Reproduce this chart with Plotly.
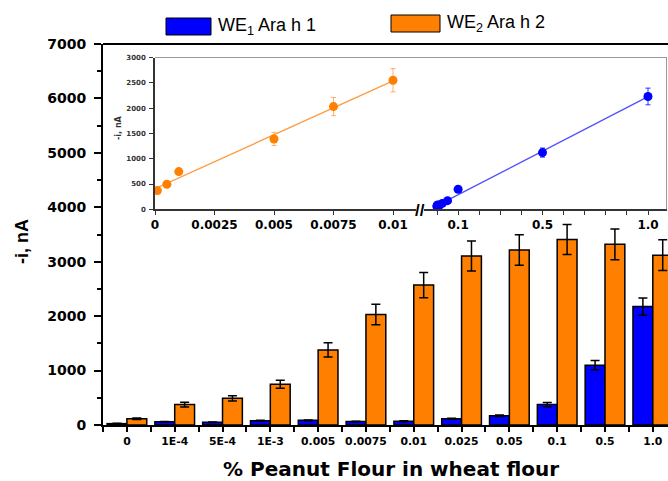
import numpy as np
import plotly.graph_objects as go

# ---------------- data ----------------
categories = ["0", "1E-4", "5E-4", "1E-3", "0.005", "0.0075", "0.01",
              "0.025", "0.05", "0.1", "0.5", "1.0"]
we1 = [25, 60, 50, 80, 85, 65, 70, 115, 170, 375, 1100, 2175]
we1_err = [6, 6, 6, 8, 8, 6, 8, 10, 15, 40, 85, 160]
we2 = [115, 375, 490, 750, 1380, 2030, 2570, 3105, 3215, 3410, 3320, 3120]
we2_err = [12, 43, 49, 73, 129, 187, 230, 276, 279, 276, 282, 282]

inset_conc_we2 = [0.0001, 0.0005, 0.001, 0.005, 0.0075, 0.01]
inset_we2 = [370, 495, 745, 1390, 2030, 2550]
inset_we2_err = [15, 25, 40, 130, 180, 230]

inset_conc_we1 = [0.0001, 0.0005, 0.001, 0.005, 0.0075, 0.01, 0.025, 0.05, 0.1, 0.5, 1.0]
inset_we1 = [61, 49, 80, 86, 67, 73, 116, 171, 396, 1121, 2230]
inset_we1_err = [6, 6, 6, 8, 6, 8, 10, 12, 30, 90, 165]

inset_low_ticks = [0, 0.0025, 0.005, 0.0075, 0.01]
inset_low_labels = ["0", "0.0025", "0.005", "0.0075", "0.01"]
inset_high_ticks = [0.1, 0.5, 1.0]
inset_high_labels = ["0.1", "0.5", "1.0"]

BLUE = "#0000ff"
ORANGE = "#ff8000"

# ---------------- geometry (picture pixels -> paper) ----------------
FIG_W, FIG_H = 668, 481
L, T, R, B = 103, 44, 668, 425    # plot-area edges in picture pixels
W, H = R - L, B - T


def px(x):
    return (x - L) / W


def py(y):
    return (B - y) / H


idx = list(range(len(categories)))

fig = go.Figure()

fig.add_trace(go.Bar(
    x=idx, y=we1, name="WE1 Ara h 1",
    marker=dict(color=BLUE, line=dict(color="black", width=1.5)),
    error_y=dict(type="data", array=we1_err, color="black", thickness=1.5, width=4.5),
))
fig.add_trace(go.Bar(
    x=idx, y=we2, name="WE2 Ara h 2",
    marker=dict(color=ORANGE, line=dict(color="black", width=1.5)),
    error_y=dict(type="data", array=we2_err, color="black", thickness=1.5, width=4.5),
))

# inset linear fits
c2 = np.polyfit(inset_conc_we2, inset_we2, 1)
c1 = np.polyfit(inset_conc_we1, inset_we1, 1)
fx2 = np.array([0, max(inset_conc_we2)])
fx1 = np.array([0, max(inset_conc_we1)])

fig.add_trace(go.Scatter(
    x=fx2, y=np.polyval(c2, fx2), mode="lines", xaxis="x2", yaxis="y2",
    line=dict(color="#ff9a40", width=1.3), showlegend=False, hoverinfo="skip"))
fig.add_trace(go.Scatter(
    x=inset_conc_we2, y=inset_we2, mode="markers", xaxis="x2", yaxis="y2",
    marker=dict(color=ORANGE, size=9),
    error_y=dict(type="data", array=inset_we2_err, color="rgba(255,150,60,0.75)",
                 thickness=1, width=2.5),
    cliponaxis=False, showlegend=False))

fig.add_trace(go.Scatter(
    x=fx1, y=np.polyval(c1, fx1), mode="lines", xaxis="x3", yaxis="y2",
    line=dict(color="#5050ff", width=1.3), showlegend=False, hoverinfo="skip"))
fig.add_trace(go.Scatter(
    x=inset_conc_we1, y=inset_we1, mode="markers", xaxis="x3", yaxis="y2",
    marker=dict(color=BLUE, size=9),
    error_y=dict(type="data", array=inset_we1_err, color="#3030ff",
                 thickness=1, width=2.5),
    cliponaxis=False, showlegend=False))

tick_font_main_y = dict(family="DejaVu Sans", size=14, color="black", weight="bold")
tick_font_main_x = dict(family="DejaVu Sans", size=10.8, color="black", weight="bold")
tick_font_inset_x = dict(family="DejaVu Sans", size=12, color="black", weight="bold")
tick_font_inset_y = dict(family="DejaVu Sans", size=7, color="#333333", weight="bold")

fig.update_layout(
    width=FIG_W, height=FIG_H,
    margin=dict(l=L, r=FIG_W - R, t=T, b=FIG_H - B, pad=0, autoexpand=False),
    paper_bgcolor="white", plot_bgcolor="white",
    showlegend=False,
    barmode="group", bargap=0.17, bargroupgap=0,
    xaxis=dict(
        range=[-0.5, (R - 127) / 47.8], tickmode="array", tickvals=idx, ticktext=categories,
        showline=True, linecolor="black", linewidth=2, showgrid=False, zeroline=False,
        ticks="outside", ticklen=5, tickwidth=1.5, tickcolor="black",
        tickfont=tick_font_main_x, automargin=False,
        minor=dict(tickmode="linear", tick0=0.5, dtick=1, ticks="outside", ticklen=5,
                   tickwidth=1.5, tickcolor="black", showgrid=False),
    ),
    yaxis=dict(
        range=[0, 7000], dtick=1000, tick0=0,
        showline=True, linecolor="black", linewidth=2, showgrid=False, zeroline=False,
        ticks="outside", ticklen=7, tickwidth=1.5, tickcolor="black",
        tickfont=tick_font_main_y, ticklabelstandoff=5, automargin=False,
        minor=dict(dtick=500, tick0=0, ticks="outside", ticklen=4, tickwidth=1.5,
                   tickcolor="black", showgrid=False),
    ),
    xaxis2=dict(
        domain=[px(155), px(416)], anchor="y2",
        range=[0, 0.01 * (416 - 155) / (393 - 155)],
        tickmode="array", tickvals=inset_low_ticks, ticktext=inset_low_labels,
        showline=True, linecolor="#333333", linewidth=1.5, showgrid=False, zeroline=False,
        ticks="outside", ticklen=4, tickwidth=1, tickcolor="#333333",
        tickfont=tick_font_inset_x, automargin=False,
    ),
    xaxis3=dict(
        domain=[px(424), px(667)], anchor="y2",
        range=[(424 - 437) / 211, (667 - 437) / 211],
        tickmode="array", tickvals=inset_high_ticks, ticktext=inset_high_labels,
        showline=True, linecolor="#333333", linewidth=1.5, showgrid=False, zeroline=False,
        ticks="outside", ticklen=4, tickwidth=1, tickcolor="#333333",
        tickfont=tick_font_inset_x, automargin=False,
        minor=dict(tickmode="linear", tick0=0, dtick=0.1, ticks="outside", ticklen=4,
                   tickwidth=1, tickcolor="#333333", showgrid=False),
    ),
    yaxis2=dict(
        domain=[py(209.3), py(57.5)], anchor="x2",
        range=[0, 3000], dtick=500, tick0=0,
        showline=True, linecolor="#333333", linewidth=1.5, showgrid=False, zeroline=False,
        ticks="outside", ticklen=4, tickwidth=1, tickcolor="#333333",
        tickfont=tick_font_inset_y, ticklabelstandoff=2, automargin=False,
    ),
)

shapes = [
    # top frame line of main plot
    dict(type="line", xref="paper", yref="paper", x0=0, x1=1, y0=1, y1=1,
         line=dict(color="black", width=2)),
    # inset top & right frame
    dict(type="line", xref="paper", yref="paper", x0=px(155), x1=px(667),
         y0=py(57.5), y1=py(57.5), line=dict(color="#999999", width=1)),
    dict(type="line", xref="paper", yref="paper", x0=px(666.5), x1=px(666.5),
         y0=py(57.5), y1=py(209.3), line=dict(color="#999999", width=1)),
    # legend swatches
    dict(type="rect", xref="paper", yref="paper", x0=px(166), x1=px(211),
         y0=py(35), y1=py(18), fillcolor=BLUE, line=dict(color="black", width=1)),
    dict(type="rect", xref="paper", yref="paper", x0=px(391), x1=px(440),
         y0=py(32), y1=py(15), fillcolor=ORANGE, line=dict(color="black", width=1)),
]
fig.update_layout(shapes=shapes)

annotations = [
    dict(text="WE<sub>1</sub> Ara h 1", x=px(216), y=py(27), xref="paper", yref="paper",
         xanchor="left", yanchor="middle", showarrow=False,
         font=dict(family="Liberation Sans", size=18, color="black")),
    dict(text="WE<sub>2</sub> Ara h 2", x=px(445), y=py(24), xref="paper", yref="paper",
         xanchor="left", yanchor="middle", showarrow=False,
         font=dict(family="Liberation Sans", size=18, color="black")),
    dict(text="-i, nA", x=px(22), y=py(242), xref="paper", yref="paper",
         textangle=-90, xanchor="center", yanchor="middle", showarrow=False,
         font=dict(family="Liberation Sans", size=18, color="black", weight="bold")),
    dict(text="% Peanut Flour in wheat flour", x=px(391), y=py(469), xref="paper",
         yref="paper", xanchor="center", yanchor="middle", showarrow=False,
         font=dict(family="DejaVu Sans", size=20, color="black", weight="bold")),
    dict(text="-i, nA", x=px(118), y=py(128), xref="paper", yref="paper",
         textangle=-90, xanchor="center", yanchor="middle", showarrow=False,
         font=dict(family="DejaVu Sans", size=8, color="#333333", weight="bold")),
    dict(text="//", x=px(420), y=py(210), xref="paper", yref="paper",
         xanchor="center", yanchor="middle", showarrow=False,
         font=dict(family="Liberation Sans", size=17, color="black", weight="bold")),
]
fig.update_layout(annotations=annotations)

# remove the browser's default page margin so the figure sits at the page origin
fig.write_html(
    "out.html",
    config={"displayModeBar": False},
    post_script="document.body.style.margin='0';document.body.style.overflow='hidden';",
)
